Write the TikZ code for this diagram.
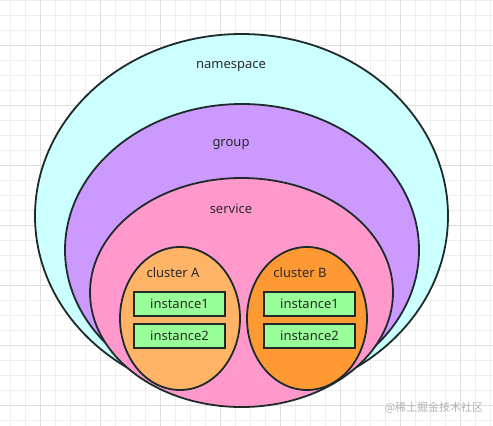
\documentclass[tikz,border=0pt]{standalone}
\usepackage{fontspec}
\setmainfont{Noto Sans}
\newfontfamily\cjk{Noto Sans CJK SC}
\usetikzlibrary{shapes.geometric}
\definecolor{nsfill}{HTML}{CCFFFF}
\definecolor{grfill}{HTML}{CC99FF}
\definecolor{svfill}{HTML}{FF99CC}
\definecolor{cafill}{HTML}{FFB366}
\definecolor{cbfill}{HTML}{FF9933}
\definecolor{infill}{HTML}{99FF99}
\definecolor{edge}{HTML}{1E2B2B}
\definecolor{txt}{HTML}{2A2A2A}
\definecolor{gridminor}{HTML}{EEEEEE}
\definecolor{gridmajor}{HTML}{DEDEDE}
\tikzset{
  blob/.style={ellipse, draw=edge, line width=1.8pt, inner sep=0pt},
  lbl/.style={text=txt, font=\fontsize{13}{15}\selectfont, inner sep=0pt, anchor=base},
  instbox/.style={draw=edge, line width=1.8pt, fill=infill, minimum width=91pt, minimum height=24pt, inner sep=0pt, text=txt, font=\fontsize{13}{15}\selectfont}
}
\begin{document}
\begin{tikzpicture}[x=1pt,y=-1pt]
\useasboundingbox (0,0) rectangle (493,426);
\fill[white] (0,0) rectangle (493,426);
% grid
\foreach \gx in {10,25,...,490} \draw[gridminor, line width=0.6pt] (\gx,0) -- (\gx,426);
\foreach \gy in {0,15,...,425} \draw[gridminor, line width=0.6pt] (0,\gy) -- (493,\gy);
\foreach \gx in {40,100,...,490} \draw[gridmajor, line width=0.6pt] (\gx,0) -- (\gx,426);
\foreach \gy in {45,105,...,425} \draw[gridmajor, line width=0.6pt] (0,\gy) -- (493,\gy);
% ellipses
\node[blob, fill=nsfill, minimum width=413pt, minimum height=364pt] (ns) at (241.5,216) {};
\node[blob, fill=grfill, minimum width=354pt, minimum height=292pt] (gr) at (242,250) {};
\node[blob, fill=svfill, minimum width=303pt, minimum height=229pt] (sv) at (241.5,292.5) {};
\node[blob, fill=cafill, minimum width=120pt, minimum height=143pt] (ca) at (180,318.5) {};
\node[blob, fill=cbfill, minimum width=120pt, minimum height=143pt] (cb) at (307,318.5) {};
% labels
\node[lbl] (nslbl) at (231,68.5) {namespace};
\node[lbl] (grlbl) at (231,146.5) {group};
\node[lbl] (svlbl) at (231,213.5) {service};
\node[lbl] (calbl) at (173,277.5) {cluster A};
\node[lbl] (cblbl) at (300,277.5) {cluster B};
% instances
\node[instbox] (a1) at (179.5,304) {instance1};
\node[instbox] (a2) at (179.5,336) {instance2};
\node[instbox] (b1) at (309.5,304) {instance1};
\node[instbox] (b2) at (309.5,336) {instance2};
% watermark
\node[text=gray!60, font=\cjk\fontsize{11}{13}\selectfont, inner sep=0pt] (wm) at (434,408) {@稀土掘金技术社区};
\end{tikzpicture}
\end{document}
